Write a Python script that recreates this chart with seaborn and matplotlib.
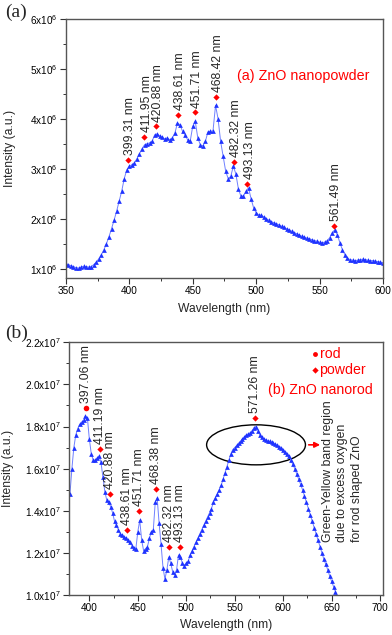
import matplotlib
matplotlib.use("Agg")
import matplotlib.pyplot as plt
import seaborn as sns
from matplotlib.patches import Ellipse
from matplotlib.ticker import MultipleLocator, FuncFormatter

# chart styling
sns.set_style("ticks")
plt.rcParams['font.family'] = ['Liberation Sans', 'DejaVu Sans']
plt.rcParams['mathtext.default'] = 'regular'

# (a) ZnO nanopowder spectrum, intensity in units of 1e6
wl_powder = [
    350, 352, 354, 356, 358, 360, 362, 364, 366, 368,
    370, 372, 374, 376, 378, 380, 382, 384, 386, 388,
    390, 392, 394, 396, 398, 400, 402, 404, 406, 408,
    410, 412, 414, 416, 418, 420, 422, 424, 426, 428,
    430, 432, 434, 436, 438, 440, 442, 444, 446, 448,
    450, 452, 454, 456, 458, 460, 462, 464, 466, 468,
    470, 472, 474, 476, 478, 480, 482, 484, 486, 488,
    490, 492, 494, 496, 498, 500, 502, 504, 506, 508,
    510, 512, 514, 516, 518, 520, 522, 524, 526, 528,
    530, 532, 534, 536, 538, 540, 542, 544, 546, 548,
    550, 552, 554, 556, 558, 560, 562, 564, 566, 568,
    570, 572, 574, 576, 578, 580, 582, 584, 586, 588,
    590, 592, 594, 596, 598, 600,
]
int_powder = [
    1.10, 1.08, 1.06, 1.04, 1.02, 1.01, 1.03, 1.05, 1.04, 1.03,
    1.04, 1.08, 1.13, 1.20, 1.28, 1.38, 1.50, 1.64, 1.80, 1.97,
    2.15, 2.35, 2.55, 2.80, 2.98, 3.05, 3.08, 3.12, 3.20, 3.30,
    3.40, 3.48, 3.50, 3.52, 3.55, 3.68, 3.70, 3.66, 3.63, 3.60,
    3.62, 3.58, 3.62, 3.72, 3.92, 3.88, 3.75, 3.68, 3.58, 3.55,
    3.85, 3.95, 3.62, 3.48, 3.46, 3.55, 3.74, 3.75, 3.76, 4.27,
    4.00, 3.55, 3.25, 2.95, 2.80, 2.85, 3.05, 2.90, 2.60, 2.45,
    2.45, 2.55, 2.62, 2.40, 2.22, 2.12, 2.08, 2.07, 2.04, 2.00,
    1.97, 1.94, 1.92, 1.90, 1.88, 1.85, 1.83, 1.80, 1.78, 1.75,
    1.72, 1.70, 1.67, 1.65, 1.63, 1.61, 1.60, 1.58, 1.56, 1.55,
    1.53, 1.52, 1.53, 1.56, 1.62, 1.72, 1.78, 1.68, 1.52, 1.38,
    1.28, 1.21, 1.18, 1.17, 1.16, 1.17, 1.18, 1.19, 1.18, 1.17,
    1.16, 1.16, 1.15, 1.14, 1.13, 1.12,
]
peak_wl_powder = [399.31, 411.95, 420.88, 438.61, 451.71, 468.42, 482.32, 493.13, 561.49]
peak_int_powder = [3.18, 3.64, 3.85, 4.08, 4.13, 4.44, 3.13, 2.69, 1.86]

# (b) ZnO nanorod spectrum, intensity in units of 1e7
wl_rod = [
    380, 382, 384, 386, 388, 390, 392, 394, 396, 398,
    400, 402, 404, 406, 408, 410, 412, 414, 416, 418,
    420, 422, 424, 426, 428, 430, 432, 434, 436, 438,
    440, 442, 444, 446, 448, 450, 452, 454, 456, 458,
    460, 462, 464, 466, 468, 470, 472, 474, 476, 478,
    480, 482, 484, 486, 488, 490, 492, 494, 496, 498,
    500, 502, 504, 506, 508, 510, 512, 514, 516, 518,
    520, 522, 524, 526, 528, 530, 532, 534, 536, 538,
    540, 542, 544, 546, 548, 550, 552, 554, 556, 558,
    560, 562, 564, 566, 568, 570, 572, 574, 576, 578,
    580, 582, 584, 586, 588, 590, 592, 594, 596, 598,
    600, 602, 604, 606, 608, 610, 612, 614, 616, 618,
    620, 622, 624, 626, 628, 630, 632, 634, 636, 638,
    640, 642, 644, 646, 648, 650, 652, 654, 656,
]
int_rod = [
    1.48, 1.60, 1.70, 1.76, 1.79, 1.81, 1.82, 1.83, 1.85, 1.84,
    1.74, 1.67, 1.64, 1.64, 1.65, 1.66, 1.63, 1.56, 1.49, 1.45,
    1.44, 1.42, 1.39, 1.35, 1.33, 1.31, 1.29, 1.285, 1.275, 1.27,
    1.26, 1.25, 1.235, 1.225, 1.22, 1.30, 1.355, 1.26, 1.21, 1.22,
    1.23, 1.27, 1.30, 1.31, 1.44, 1.46, 1.34, 1.24, 1.13, 1.076,
    1.12, 1.18, 1.15, 1.11, 1.095, 1.12, 1.19, 1.18, 1.15, 1.14,
    1.15, 1.16, 1.19, 1.21, 1.23, 1.25, 1.27, 1.29, 1.31, 1.33,
    1.35, 1.37, 1.39, 1.41, 1.44, 1.46, 1.48, 1.50, 1.52, 1.55,
    1.58, 1.61, 1.64, 1.67, 1.69, 1.70, 1.71, 1.72, 1.73, 1.74,
    1.75, 1.76, 1.765, 1.77, 1.78, 1.795, 1.80, 1.78, 1.76, 1.75,
    1.74, 1.735, 1.73, 1.73, 1.725, 1.72, 1.715, 1.71, 1.705, 1.70,
    1.69, 1.68, 1.67, 1.66, 1.64, 1.62, 1.60, 1.575, 1.55, 1.525,
    1.50, 1.47, 1.44, 1.41, 1.38, 1.35, 1.32, 1.29, 1.26, 1.23,
    1.20, 1.17, 1.145, 1.12, 1.09, 1.065, 1.04, 1.015, 0.99,
]
rod_peak_wl = [397.06]
rod_peak_int = [1.887]
powder_wl_b = [411.19, 420.88, 438.61, 451.71, 468.38, 482.32, 493.13, 571.26]
powder_int_b = [1.692, 1.48, 1.309, 1.40, 1.504, 1.23, 1.23, 1.84]

blue_line = '#6f80ff'
blue_mark = '#1f33ff'
red = '#ff0000'
ann_size = 8.8


def style_axes(ax):
    for s in ax.spines.values():
        s.set_color('#555555')
        s.set_linewidth(1.0)
    ax.tick_params(which='major', direction='out', length=4, width=0.8,
                   labelsize=7.2, colors='#333333', labelcolor='black', pad=2)
    ax.tick_params(which='minor', direction='out', length=2.5, width=0.7,
                   colors='#333333')


fig = plt.figure(figsize=(3.92, 6.35), dpi=100)

# ---------- panel (a)
ax1 = fig.add_axes([0.168, 0.562, 0.809, 0.408])
sns.lineplot(x=[w for w in wl_powder], y=[v * 1e6 for v in int_powder], ax=ax1,
             color=blue_line, lw=0.7, marker='^', ms=3.4, mfc=blue_mark,
             mec=blue_mark, mew=0, sort=False)
ax1.plot(peak_wl_powder, [v * 1e6 for v in peak_int_powder], 'D', color=red,
         ms=3.2, mew=0)
for w, v in zip(peak_wl_powder, peak_int_powder):
    ax1.annotate(f"{w:.2f} nm", (w, v * 1e6), xytext=(1.5, 3.5),
                 textcoords='offset points', rotation=90, ha='center',
                 va='bottom', fontsize=ann_size)
ax1.text(537.5, 4.86e6, "(a) ZnO nanopowder", color=red, fontsize=10.3,
         ha='center', va='center')

ax1.set_xlim(350, 600)
ax1.set_ylim(0.81e6, 6e6)
ax1.xaxis.set_major_locator(MultipleLocator(50))
ax1.xaxis.set_minor_locator(MultipleLocator(25))
ax1.yaxis.set_major_locator(MultipleLocator(1e6))
ax1.yaxis.set_minor_locator(MultipleLocator(0.5e6))
ax1.yaxis.set_major_formatter(FuncFormatter(lambda v, p: f"{int(round(v / 1e6))}x10$^{{6}}$"))
ax1.set_xlabel("Wavelength (nm)", fontsize=8.7)
ax1.set_ylabel("Intensity (a.u.)", fontsize=8.7)
ax1.xaxis.set_label_coords(0.5, -0.095)
ax1.yaxis.set_label_coords(-0.158, 0.5)
style_axes(ax1)

# ---------- panel (b)
ax2 = fig.add_axes([0.176, 0.063, 0.801, 0.398])
sns.lineplot(x=[w for w in wl_rod], y=[v * 1e7 for v in int_rod], ax=ax2,
             color=blue_line, lw=0.7, marker='^', ms=3.4, mfc=blue_mark,
             mec=blue_mark, mew=0, sort=False)
ax2.plot(rod_peak_wl, [v * 1e7 for v in rod_peak_int], 'o', color=red, ms=4, mew=0)
ax2.plot(powder_wl_b, [v * 1e7 for v in powder_int_b], 'D', color=red, ms=3.2, mew=0)
for w, v in zip(rod_peak_wl + powder_wl_b, rod_peak_int + powder_int_b):
    ax2.annotate(f"{w:.2f} nm", (w, v * 1e7), xytext=(0, 3.5),
                 textcoords='offset points', rotation=90, ha='center',
                 va='bottom', fontsize=ann_size)

# legend-like labels
ax2.plot([632.9], [2.145e7], 'o', color=red, ms=3.5, mew=0)
ax2.plot([632.9], [2.069e7], 'D', color=red, ms=3.2, mew=0)
ax2.text(637.5, 2.145e7, "rod", color=red, fontsize=10.2, ha='left', va='center')
ax2.text(637.5, 2.069e7, "powder", color=red, fontsize=10.2, ha='left', va='center')
ax2.text(638.8, 1.974e7, "(b) ZnO nanorod", color=red, fontsize=10.2,
         ha='center', va='center')

# green-yellow band marking
ax2.add_patch(Ellipse((572, 1.713e7), 102, 0.19e7, fill=False, ec='black', lw=1.0))
ax2.annotate('', xy=(641, 1.713e7), xytext=(623.5, 1.713e7),
             arrowprops=dict(arrowstyle='-|>', color=red, lw=1.2, mutation_scale=8))
ax2.text(661, 1.252e7, "Green-Yellow band region\ndue to excess oxygen\nfor rod shaped ZnO",
         rotation=90, ha='center', va='bottom', multialignment='left',
         linespacing=1.3, fontsize=ann_size)

ax2.set_xlim(379, 703)
ax2.set_ylim(1.0e7, 2.2e7)
ax2.xaxis.set_major_locator(MultipleLocator(50))
ax2.xaxis.set_minor_locator(MultipleLocator(25))
ax2.yaxis.set_major_locator(MultipleLocator(0.2e7))
ax2.yaxis.set_minor_locator(MultipleLocator(0.1e7))
ax2.yaxis.set_major_formatter(FuncFormatter(lambda v, p: f"{v / 1e7:.1f}x10$^{{7}}$"))
ax2.set_xlabel("Wavelength (nm)", fontsize=8.7)
ax2.set_ylabel("Intensity (a.u.)", fontsize=8.7)
ax2.xaxis.set_label_coords(0.5, -0.095)
ax2.yaxis.set_label_coords(-0.175, 0.5)
style_axes(ax2)

# panel letters
fig.text(16.5 / 392, 1 - 12 / 635, "(a)", family=['Liberation Serif', 'DejaVu Serif'],
         fontsize=14, ha='center', va='center')
fig.text(17 / 392, 1 - 333 / 635, "(b)", family=['Liberation Serif', 'DejaVu Serif'],
         fontsize=14, ha='center', va='center')

fig.savefig("out.png", dpi=100)
